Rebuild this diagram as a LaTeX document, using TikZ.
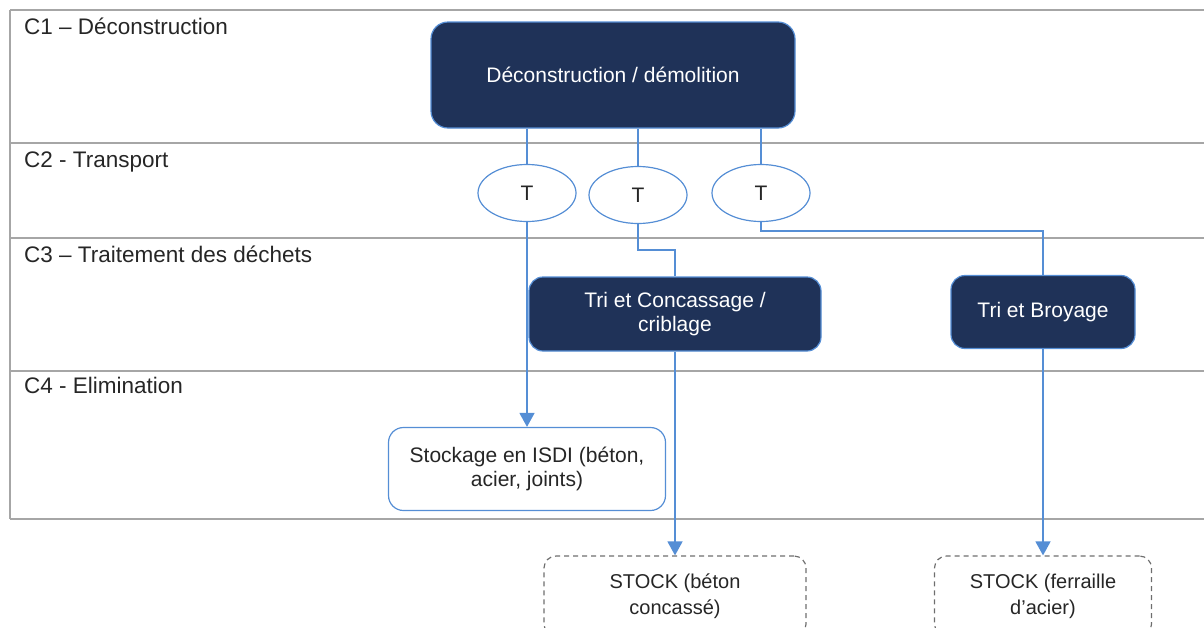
\documentclass[tikz,border=0pt]{standalone}
\usepackage{fontspec}
\setmainfont{Liberation Sans}
\usetikzlibrary{arrows.meta,shapes.geometric}
\definecolor{navy}{RGB}{31,50,88}
\definecolor{flow}{RGB}{85,142,213}
\definecolor{lanegray}{RGB}{166,166,166}
\definecolor{dashgray}{RGB}{110,110,110}
\definecolor{ink}{RGB}{38,38,38}
\begin{document}
\begin{tikzpicture}[x=1pt,y=-1pt,
  lane/.style={draw=lanegray,line width=2pt},
  lanelabel/.style={anchor=base west,inner sep=0pt,text=ink,font=\fontsize{22.5}{26}\selectfont},
  darkbox/.style={draw=flow,line width=1.2pt,fill=navy,text=white,rounded corners=14pt,align=center,font=\fontsize{21}{24}\selectfont,inner sep=0pt},
  whitebox/.style={draw=flow,line width=1.2pt,fill=white,text=ink,rounded corners=15pt,align=center,font=\fontsize{21}{24}\selectfont,inner sep=0pt},
  stockbox/.style={draw=dashgray,line width=1.2pt,dash pattern=on 5pt off 4pt,text=ink,rounded corners=12pt,align=center,font=\fontsize{20}{26}\selectfont,inner sep=0pt},
  tnode/.style={ellipse,draw=flow,line width=1.2pt,fill=white,text=ink,minimum width=98pt,minimum height=57pt,inner sep=0pt,font=\fontsize{21}{24}\selectfont},
  link/.style={draw=flow,line width=1.5pt},
  arrowlink/.style={link,-{Triangle[width=15pt,length=14pt]}}]
\useasboundingbox (0,0) rectangle (1204,627);
\foreach \y in {10,143,238,371,519}
  \path[lane] (10,\y) -- (1204,\y);
\path[lane] (10,10) -- (10,519);
\node[lanelabel] (c1) at (24,34) {C1 – Déconstruction};
\node[lanelabel] (c2) at (24,167) {C2 - Transport};
\node[lanelabel] (c3) at (24,262) {C3 – Traitement des déchets};
\node[lanelabel] (c4) at (24,393) {C4 - Elimination};
\node[darkbox,minimum width=364pt,minimum height=106pt,rounded corners=17pt] (demo) at (613,75) {Déconstruction / démolition};
\node[tnode] (t1) at (527,193) {T};
\node[tnode] (t2) at (638,195) {T};
\node[tnode] (t3) at (761,193) {T};
\node[darkbox,minimum width=292pt,minimum height=74pt] (tric) at (675,314) {Tri et Concassage /\\criblage};
\node[darkbox,minimum width=184pt,minimum height=73pt] (trib) at (1043,312) {Tri et Broyage};
\node[whitebox,minimum width=277pt,minimum height=83pt] (isdi) at (527,469) {Stockage en ISDI (béton,\\acier, joints)};
\node[stockbox,minimum width=262pt,minimum height=80pt] (stockb) at (675,596) {STOCK (béton\\concassé)};
\node[stockbox,minimum width=217pt,minimum height=80pt] (stockf) at (1043,596) {STOCK (ferraille\\d’acier)};
\coordinate (k2) at (0,250);
\coordinate (k3) at (0,231);
\path[link] (demo.south -| t1.north) -- (t1.north);
\path[link] (demo.south -| t2.north) -- (t2.north);
\path[link] (demo.south -| t3.north) -- (t3.north);
\path[arrowlink] (t1.south) -- (isdi.north);
\path[link] (t2.south) |- (tric.north |- k2) -- (tric.north);
\path[link] (t3.south) |- (trib.north |- k3) -- (trib.north);
\path[arrowlink] (tric.south) -- (stockb.north);
\path[arrowlink] (trib.south) -- (stockf.north);
\end{tikzpicture}
\end{document}
